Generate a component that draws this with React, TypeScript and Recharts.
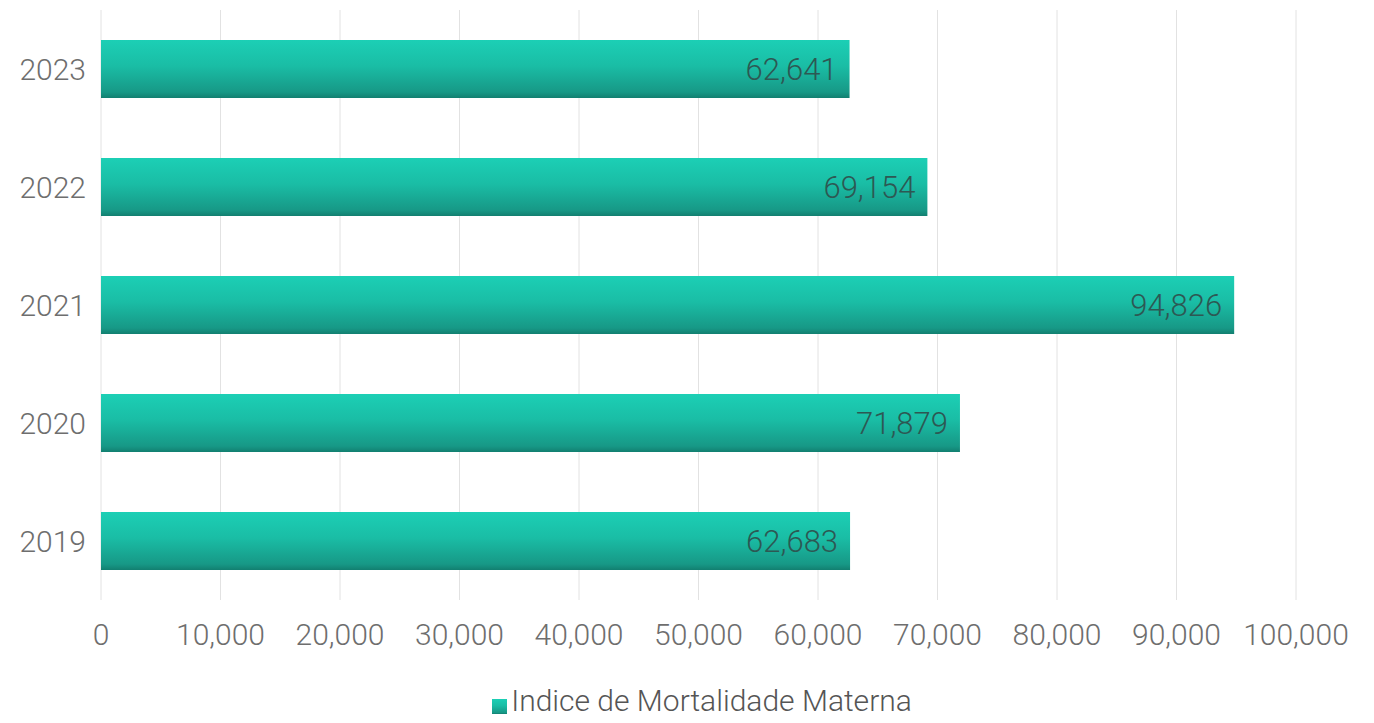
import React from "react";
import { BarChart, Bar, XAxis, YAxis, CartesianGrid, Legend, LabelList } from "recharts";

const years = ["2023", "2022", "2021", "2020", "2019"];
const mortalidade = [62641, 69154, 94826, 71879, 62683];
const xTicks = [0, 10000, 20000, 30000, 40000, 50000, 60000, 70000, 80000, 90000, 100000];

const data = years.map((y, i) => ({ year: y, value: mortalidade[i] }));

const fmt = (v: number) => v.toLocaleString("en-US");

export default function App() {
  return (
    <div style={{ margin: -8, background: "#fff", fontFamily: "Roboto, sans-serif" }}>
      <BarChart
        width={1374}
        height={723}
        data={data}
        layout="vertical"
        margin={{ top: 10, right: 78, bottom: 0, left: 0 }}
        barSize={58}
      >
        <defs>
          <linearGradient id="barGrad" x1="0" y1="0" x2="0" y2="1">
            <stop offset="0%" stopColor="#1ccfb5" />
            <stop offset="45%" stopColor="#1abda5" />
            <stop offset="90%" stopColor="#179886" />
            <stop offset="100%" stopColor="#127f70" />
          </linearGradient>
        </defs>
        <CartesianGrid horizontal={false} stroke="#e2e2e2" />
        <XAxis
          type="number"
          domain={[0, 100000]}
          ticks={xTicks}
          tickFormatter={fmt}
          axisLine={false}
          tickLine={false}
          height={80}
          tickMargin={18}
          tick={{ fill: "#6e6e6e", fontSize: 30, fontWeight: 300 }}
        />
        <YAxis
          type="category"
          dataKey="year"
          axisLine={false}
          tickLine={false}
          width={101}
          tickMargin={9}
          tick={{ fill: "#6e6e6e", fontSize: 30, fontWeight: 300 }}
        />
        <Legend
          verticalAlign="bottom"
          height={43}
          iconType="square"
          iconSize={15}
          wrapperStyle={{ paddingLeft: 59, bottom: -3 }}
          formatter={(v) => <span style={{ color: "#555", fontSize: 30, fontWeight: 300 }}>{v}</span>}
        />
        <Bar
          dataKey="value"
          name="Indice de Mortalidade Materna"
          fill="url(#barGrad)"
          legendType="square"
          isAnimationActive={false}
        >
          <LabelList
            dataKey="value"
            position="insideRight"
            formatter={(v: any) => fmt(Number(v))}
            fill="#2d5853"
            fontSize={31}
            fontWeight={300}
            offset={12}
          />
        </Bar>
      </BarChart>
    </div>
  );
}
